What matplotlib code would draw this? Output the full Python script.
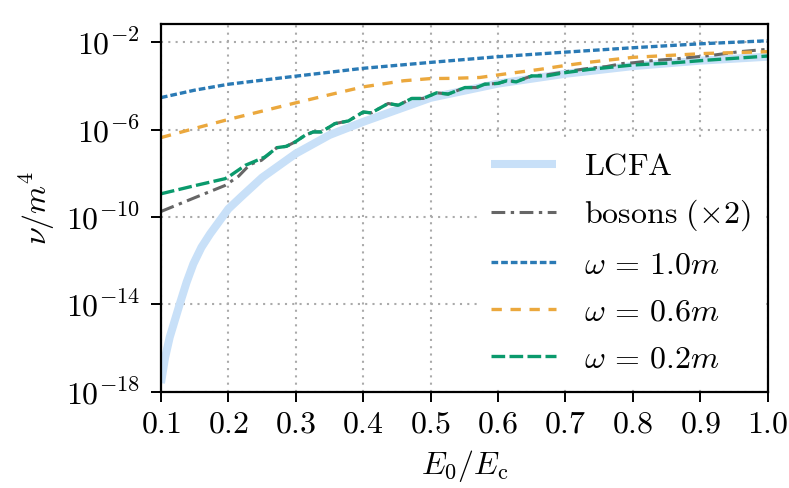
import numpy as np
import matplotlib
matplotlib.use("Agg")
import matplotlib.pyplot as plt

plt.rcParams['mathtext.fontset'] = 'cm'
plt.rcParams['font.family'] = ['DejaVu Serif']

# ---- data (log10 of nu/m^4) ----
lcfa_x = [0.10, 0.106, 0.113, 0.128, 0.138, 0.148, 0.16, 0.173, 0.20, 0.22, 0.25, 0.30, 0.35, 0.40, 0.45,
          0.50, 0.60, 0.70, 0.80, 0.90, 1.00]
lcfa_log = [-17.6, -16.45, -15.5, -13.97, -12.99, -12.15, -11.39, -10.77, -9.63, -9.05, -8.2, -7.1, -6.25,
            -5.65, -5.1, -4.55, -3.9, -3.45, -3.1, -2.85, -2.67]

green_x = [0.10, 0.15, 0.195, 0.20, 0.225, 0.254, 0.272, 0.286, 0.299, 0.314, 0.326, 0.338, 0.358, 0.378,
           0.400, 0.412, 0.437, 0.452, 0.472, 0.489, 0.509, 0.526, 0.551, 0.568, 0.580, 0.600, 0.613, 0.627,
           0.650, 0.672, 0.697, 0.736, 0.80, 0.86, 0.909, 1.00]
green_log = [-8.94, -8.57, -8.25, -8.17, -7.64, -7.26, -6.83, -6.77, -6.57, -6.26, -6.11, -6.11, -5.73, -5.61,
             -5.20, -5.24, -4.81, -4.89, -4.58, -4.58, -4.32, -4.38, -4.08, -4.08, -3.93, -3.89, -3.77, -3.82,
             -3.55, -3.55, -3.41, -3.25, -3.05, -2.95, -2.83, -2.64]

boson_x = [0.10, 0.15, 0.195, 0.215, 0.232, 0.249, 0.272, 0.286, 0.299, 0.314, 0.326, 0.338, 0.358, 0.378,
           0.400, 0.412, 0.437, 0.452, 0.472, 0.489, 0.509, 0.526, 0.551, 0.568, 0.580, 0.600, 0.613, 0.627,
           0.650, 0.672, 0.700, 0.735, 0.761, 0.785, 0.80, 0.825, 0.87, 0.919, 0.958, 1.00]
boson_log = [-9.75, -9.12, -8.56, -8.14, -7.60, -7.41, -6.83, -6.77, -6.57, -6.26, -6.11, -6.11, -5.73, -5.61,
             -5.20, -5.24, -4.81, -4.89, -4.58, -4.58, -4.32, -4.38, -4.08, -4.08, -3.93, -3.89, -3.77, -3.80,
             -3.55, -3.50, -3.36, -3.20, -3.12, -2.98, -2.95, -2.86, -2.75, -2.60, -2.44, -2.33]

w10_x = [0.10, 0.15, 0.20, 0.30, 0.40, 0.50, 0.60, 0.70, 0.80, 0.90, 1.00]
w10_log = [-4.54, -4.20, -3.93, -3.56, -3.20, -2.93, -2.67, -2.46, -2.26, -2.08, -1.94]

w06_x = [0.10, 0.15, 0.20, 0.25, 0.30, 0.35, 0.40, 0.46, 0.50, 0.533, 0.573, 0.608, 0.662, 0.70, 0.736, 0.80, 0.86, 0.909, 1.00]
w06_log = [-6.37, -5.95, -5.54, -5.16, -4.78, -4.41, -4.05, -3.77, -3.67, -3.66, -3.62, -3.47, -3.25, -3.07, -2.92, -2.70, -2.60, -2.52, -2.44]

x_ticks = [0.1, 0.2, 0.3, 0.4, 0.5, 0.6, 0.7, 0.8, 0.9, 1.0]
y_tick_exps = [-18, -14, -10, -6, -2]

labels = [r'$\mathrm{LCFA}$', r'$\mathrm{bosons}\ (\times 2)$', r'$\omega\,=\,1.0m$', r'$\omega\,=\,0.6m$', r'$\omega\,=\,0.2m$']

FS = 23

fig = plt.figure(figsize=(7.89, 4.88), dpi=100)
ax = fig.add_axes([0.204, 0.197, 0.769, 0.754])

def pw(a):
    return 10.0 ** np.asarray(a)

ax.plot(lcfa_x, pw(lcfa_log), color='#c8e0f8', lw=5.8, solid_capstyle='butt', label=labels[0])
ax.plot(boson_x, pw(boson_log), color='#666666', lw=2.2, dashes=(4.5, 1.8, 1.1, 1.8), label=labels[1])
ax.plot(w10_x, pw(w10_log), color='#2a7ab5', lw=2.4, dashes=(2.0, 0.9), label=labels[2])
ax.plot(w06_x, pw(w06_log), color='#eba83d', lw=2.4, dashes=(3.1, 2.6), label=labels[3])
ax.plot(green_x, pw(green_log), color='#0a9a6c', lw=2.4, dashes=(4.1, 1.3), label=labels[4])

ax.set_yscale('log')
ax.set_xlim(0.1, 1.0)
ax.set_ylim(1e-18, 10 ** -1.17)
ax.set_xticks(x_ticks)
ax.set_xticklabels([f'${v:.1f}$' for v in x_ticks])
ax.set_yticks([10.0 ** e for e in y_tick_exps])
ax.set_yticklabels([f'$10^{{{e}}}$' for e in y_tick_exps])
ax.minorticks_off()
ax.tick_params(direction='out', length=7, width=1.4, labelsize=FS, top=False, right=False)
ax.tick_params(axis='y', pad=8)
ax.tick_params(axis='x', pad=5)
for s in ax.spines.values():
    s.set_linewidth(1.6)
ax.grid(True, color='#aaaaaa', linestyle=(0, (1, 2.5)), linewidth=1.5)
ax.set_axisbelow(True)

ax.set_xlabel(r'$E_0/E_\mathrm{c}$', fontsize=FS, labelpad=6)
ax.set_ylabel(r'$\nu/m^4$', fontsize=FS, labelpad=6)

leg = ax.legend(loc='lower right', fontsize=FS, frameon=True, framealpha=1.0, edgecolor='none',
                fancybox=False, handlelength=2.05, handletextpad=0.85, borderaxespad=0.15, labelspacing=0.5)

fig.savefig('out.png', dpi=100)
